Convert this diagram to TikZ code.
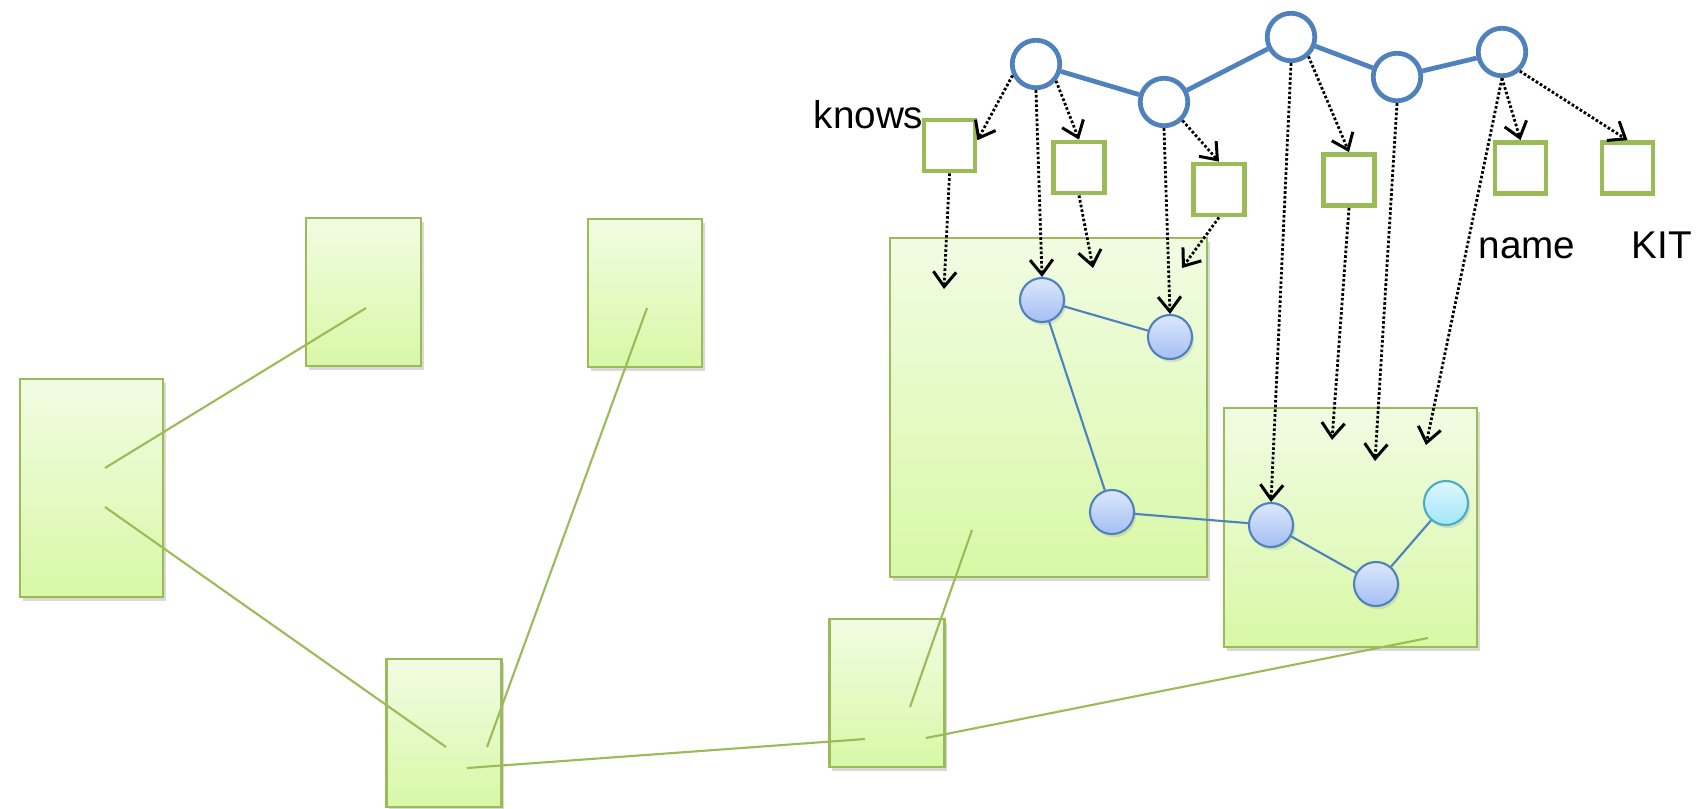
\documentclass[tikz,border=0pt]{standalone}
\usepackage{fontspec}
\setmainfont{Liberation Sans}
\usetikzlibrary{arrows.meta,shadows}
\definecolor{gtop}{HTML}{F1FCE3}
\definecolor{gbot}{HTML}{D8F8A6}
\definecolor{gline}{HTML}{9BBB59}
\definecolor{bline}{HTML}{4F81BD}
\definecolor{ctop}{HTML}{DCE7FB}
\definecolor{cbot}{HTML}{A4BFF4}
\definecolor{cytop}{HTML}{DDF7FE}
\definecolor{cybot}{HTML}{A2E6FA}
\definecolor{cyline}{HTML}{4BACC6}
\begin{document}
\begin{tikzpicture}[x=0.01cm,y=-0.01cm,
  gbox/.style={draw=gline, line width=0.6pt, top color=gtop, bottom color=gbot,
    drop shadow={shadow xshift=0.8pt, shadow yshift=-1.2pt, opacity=0.3},
    inner sep=0pt, rectangle},
  gedge/.style={draw=gline, line width=0.6pt},
  sbox/.style={draw=gline, line width=1.35pt, fill=white, rectangle, inner sep=0pt,
    minimum width=0.51cm, minimum height=0.51cm},
  tcirc/.style={draw=bline, line width=1.35pt, fill=white, circle, inner sep=0pt,
    minimum size=0.475cm},
  tedge/.style={draw=bline, line width=1.35pt},
  ccirc/.style={draw=bline, line width=0.6pt, top color=ctop, bottom color=cbot,
    circle, inner sep=0pt, minimum size=0.44cm,
    drop shadow={shadow xshift=0.6pt, shadow yshift=-0.9pt, opacity=0.2}},
  cycirc/.style={draw=cyline, line width=0.6pt, top color=cytop, bottom color=cybot,
    circle, inner sep=0pt, minimum size=0.44cm,
    drop shadow={shadow xshift=0.6pt, shadow yshift=-0.9pt, opacity=0.2}},
  cedge/.style={draw=bline, line width=0.6pt},
  darrow/.style={draw=black, line width=0.8pt, dash pattern=on 0.75pt off 0.6pt,
    -{Straight Barb[length=4.2pt,width=6.5pt,line width=0.85pt]}},
  lbl/.style={font=\fontsize{11}{13}\selectfont, inner sep=0pt, anchor=base west}
]
\useasboundingbox (0,0) rectangle (1706,808);

% green boxes
\node[gbox, minimum width=1.43cm, minimum height=2.18cm] (L1) at (91.5,488) {};
\node[gbox, minimum width=1.15cm, minimum height=1.48cm] (T1) at (363.5,292) {};
\node[gbox, minimum width=1.14cm, minimum height=1.48cm] (T2) at (645,293) {};
\node[gbox, minimum width=1.15cm, minimum height=1.48cm] (B1) at (444,733) {};
\node[gbox, minimum width=1.15cm, minimum height=1.48cm] (B2) at (887,693) {};
\node[gbox, minimum width=3.17cm, minimum height=3.39cm] (BB1) at (1048.5,407.5) {};
\node[gbox, minimum width=2.53cm, minimum height=2.39cm] (BB2) at (1350.5,527.5) {};

% inner points for green connectors
\coordinate (l1a) at (105,468);
\coordinate (t1a) at (366,308);
\coordinate (l1b) at (105,507);
\coordinate (b1a) at (446,747);
\coordinate (t2a) at (647,308);
\coordinate (b1b) at (487,747);
\coordinate (b1c) at (467,768);
\coordinate (b2a) at (865,739);
\coordinate (b2b) at (910,707);
\coordinate (bb1a) at (972,530);
\coordinate (b2c) at (926,738);
\coordinate (bb2a) at (1428,638);
\draw[gedge] (l1a) -- (t1a);
\draw[gedge] (l1b) -- (b1a);
\draw[gedge] (t2a) -- (b1b);
\draw[gedge] (b1c) -- (b2a);
\draw[gedge] (b2b) -- (bb1a);
\draw[gedge] (b2c) -- (bb2a);

% small circles
\node[ccirc] (c1) at (1042,300) {};
\node[ccirc] (c2) at (1170,337) {};
\node[ccirc] (c3) at (1112,512) {};
\node[ccirc] (c4) at (1271,525) {};
\node[ccirc] (c5) at (1376,584) {};
\node[cycirc] (c6) at (1446,503) {};
\draw[cedge] (c1) -- (c2);
\draw[cedge] (c1) -- (c3);
\draw[cedge] (c3) -- (c4);
\draw[cedge] (c4) -- (c5);
\draw[cedge] (c5) -- (c6);

% top circles
\node[tcirc] (a1) at (1036,64) {};
\node[tcirc] (a2) at (1164,102) {};
\node[tcirc] (a3) at (1291,37) {};
\node[tcirc] (a4) at (1397,77) {};
\node[tcirc] (a5) at (1502,52) {};
\draw[tedge] (a1) -- (a2);
\draw[tedge] (a2) -- (a3);
\draw[tedge] (a3) -- (a4);
\draw[tedge] (a4) -- (a5);

% squares
\node[sbox] (s1) at (949.5,145.5) {};
\node[sbox] (s2) at (1079,167.5) {};
\node[sbox] (s3) at (1219,189.5) {};
\node[sbox] (s4) at (1349,180) {};
\node[sbox] (s5) at (1520.5,168) {};
\node[sbox] (s6) at (1627.5,168) {};

% labels
\node[lbl] (tknows) at (813,128) {knows};
\node[lbl] (tname) at (1478,258) {name};
\node[lbl] (tkit) at (1631,258) {KIT};

% free ends
\coordinate (k1) at (944,289);
\coordinate (k2) at (1093,268);
\coordinate (k3) at (1182,268);
\coordinate (k4) at (1332,440);
\coordinate (k5) at (1375,461);
\coordinate (k6) at (1426,445);

% dotted arrows
\draw[darrow] (a1.206) -- ([yshift=1.5pt]s1.east);
\draw[darrow] (a1.south) -- (c1.north);
\draw[darrow] (a1.-40) -- (s2.north);
\draw[darrow] (s1.south) -- (k1);
\draw[darrow] (s2.south) -- (k2);
\draw[darrow] (a2.south) -- (c2.north);
\draw[darrow] (a2.-45) -- (s3.north);
\draw[darrow] (s3.south) -- (k3);
\draw[darrow] (a3.south) -- (c4.north);
\draw[darrow] (a3.-48) -- (s4.north);
\draw[darrow] (s4.south) -- (k4);
\draw[darrow] (a4.south) -- (k5);
\draw[darrow] (a5.south) -- (s5.north);
\draw[darrow] (a5.south) -- (k6);
\draw[darrow] (a5.-47) -- (s6.north);
\end{tikzpicture}
\end{document}
